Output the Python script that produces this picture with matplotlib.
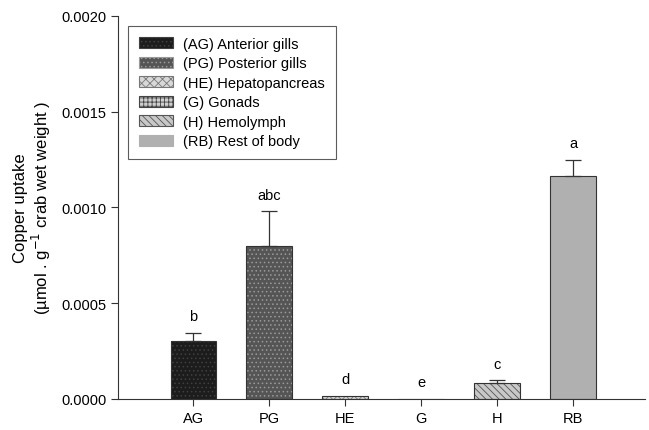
import numpy as np
import matplotlib
matplotlib.use("Agg")
from matplotlib import pyplot as plt

plt.rcParams['font.family'] = ['Liberation Sans', 'DejaVu Sans']
plt.rcParams['hatch.linewidth'] = 0.6

# data
cats = ["AG", "PG", "HE", "G", "H", "RB"]
names = ["(AG) Anterior gills", "(PG) Posterior gills", "(HE) Hepatopancreas",
         "(G) Gonads", "(H) Hemolymph", "(RB) Rest of body"]
vals = [0.00030, 0.00080, 0.000018, 0.0, 0.000085, 0.001165]
errs = [0.000045, 0.00018, 0.0, 0.0, 0.000012, 0.000082]
letters = ["b", "abc", "d", "e", "c", "a"]

colors = ["#1c1c1c", "#555555", "#d8d8d8", "#cfcfcf", "#c8c8c8", "#b0b0b0"]
hatches = ["....", "....", "xxxx", "++++", "\\\\\\\\\\", ""]
hcolors = ["#404040", "#9a9a9a", "#777777", "#444444", "#555555", "#b0b0b0"]

fig = plt.figure(figsize=(6.49, 4.31), dpi=100)
ax = fig.add_axes([0.182, 0.072, 0.812, 0.889])

x = np.arange(len(cats))
for i in range(len(cats)):
    ax.bar(x[i], vals[i], width=0.6, color=colors[i], edgecolor=hcolors[i],
           hatch=hatches[i], linewidth=0, label=names[i], zorder=2)
    # outline drawn separately so the hatch color can differ
    ax.bar(x[i], vals[i], width=0.6, fill=False, edgecolor="#333333", linewidth=0.8, zorder=3)
    if errs[i] > 0:
        ax.errorbar(x[i], vals[i], yerr=[[0], [errs[i]]], fmt="none", ecolor="#333333",
                    elinewidth=0.9, capsize=5.5, capthick=0.9, zorder=4)
    ax.text(x[i], vals[i] + errs[i] + 0.00005, letters[i], ha="center", va="bottom", fontsize=10.5)

ax.set_xlim(-0.99, 5.95)
ax.set_ylim(0, 0.002)
ax.set_xticks(x)
ax.set_xticklabels(cats, fontsize=10.5)
ax.set_yticks([0, 0.0005, 0.001, 0.0015, 0.002])
ax.set_yticklabels(["0.0000", "0.0005", "0.0010", "0.0015", "0.0020"], fontsize=10.5)
ax.tick_params(direction="out", length=5, width=0.8, color="#333333")
for s in ["top", "right"]:
    ax.spines[s].set_visible(False)
for s in ["left", "bottom"]:
    ax.spines[s].set_color("#333333")
    ax.spines[s].set_linewidth(0.8)

ax.set_ylabel("Copper uptake\n(µmol . g$^{-1}$ crab wet weight )", fontsize=12, labelpad=6,
              linespacing=1.1)

handles, labels = ax.get_legend_handles_labels()
leg = ax.legend(handles, labels, loc="upper left", bbox_to_anchor=(0.019, 0.974), borderaxespad=0,
                fontsize=10.5, frameon=True, fancybox=False, edgecolor="#333333", handlelength=2.3,
                handleheight=0.8, borderpad=0.75, labelspacing=0.38, handletextpad=0.7)
leg.get_frame().set_linewidth(0.8)
for h in leg.legend_handles:
    h.set_linewidth(0.8)

fig.savefig("out.png", dpi=100)
